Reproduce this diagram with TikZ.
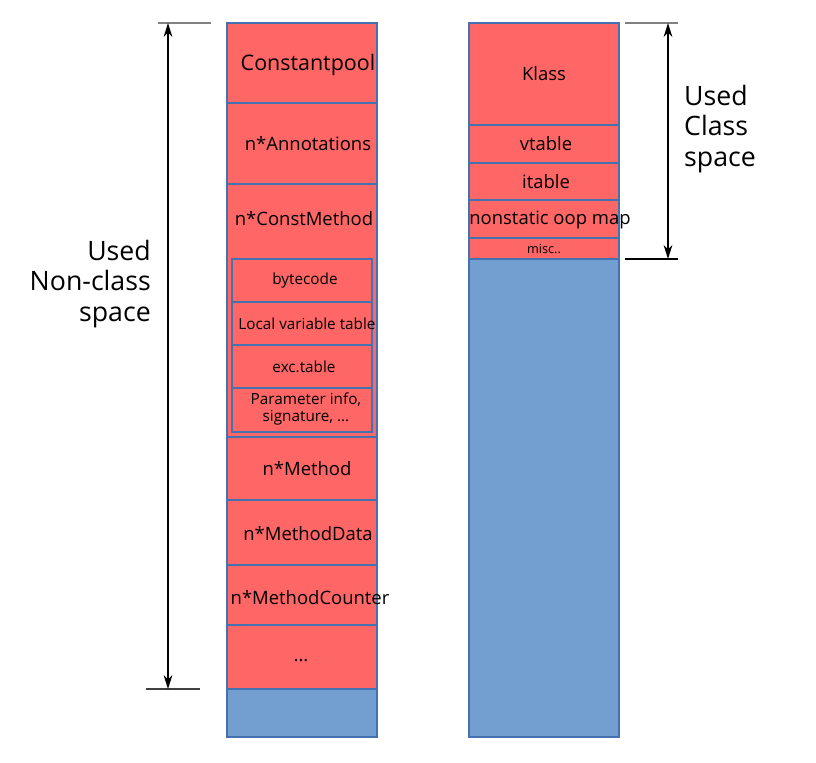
\documentclass[tikz,border=0pt]{standalone}
\usepackage{fontspec}
\setmainfont{Open Sans}
\usetikzlibrary{arrows.meta}
\definecolor{memred}{RGB}{255,102,102}
\definecolor{memblue}{RGB}{114,159,207}
\definecolor{edgeblue}{RGB}{68,114,176}

\begin{document}
\begin{tikzpicture}[x=0.02cm,y=-0.02cm,
	cell/.style={draw=edgeblue, fill=memred, line width=0.6},
	free/.style={draw=edgeblue, fill=memblue, line width=0.6},
	txt/.style={font=\fontsize{10.5}{12.6}\selectfont},
	small/.style={font=\fontsize{8.7}{9.8}\selectfont, align=center},
	tiny/.style={font=\fontsize{7.2}{8}\selectfont},
	big/.style={font=\fontsize{15.2}{17.2}\selectfont},
	span/.style={line width=0.8, {Stealth[length=8pt,width=5pt]}-{Stealth[length=8pt,width=5pt]}},
	tick/.style={line width=0.8}]

		\useasboundingbox (0,0) rectangle (816,762);

		% left column: the non-class part
		\draw[free] (227,689) rectangle (377,737);
		\draw[cell] (227,23) rectangle (377,103);
		\draw[cell] (227,103) rectangle (377,184);
		\draw[cell] (227,184) rectangle (377,437);
		\draw[cell] (227,437) rectangle (377,500);
		\draw[cell] (227,500) rectangle (377,565);
		\draw[cell] (227,565) rectangle (377,625);
		\draw[cell] (227,625) rectangle (377,689);

		% the parts of a ConstMethod
		\draw[cell] (232,259) rectangle (372,302);
		\draw[cell] (232,302) rectangle (372,345);
		\draw[cell] (232,345) rectangle (372,388);
		\draw[cell] (232,388) rectangle (372,432);

		\node[txt, font=\fontsize{12.2}{14}\selectfont] (cpool) at (308,65) {Constantpool};
		\node[txt] (annot) at (308,144) {n*Annotations};
		\node[txt] (cmeth) at (304,219) {n*ConstMethod};
		\node[small] (bcode) at (305,281) {bytecode};
		\node[small] (lvt) at (307,324) {Local variable table};
		\node[small] (exct) at (304,367) {exc.table};
		\node[small] (param) at (306,409) {Parameter info,\\signature, ...};
		\node[txt] (meth) at (307,469) {n*Method};
		\node[txt] (mdata) at (308,534) {n*MethodData};
		\node[txt] (mcount) at (310,598) {n*MethodCounter};
		\node[txt] (etc) at (301,661) {...};

		% right column: the class part
		\draw[free] (469,259) rectangle (619,737);
		\draw[cell] (469,23) rectangle (619,125);
		\draw[cell] (469,125) rectangle (619,163);
		\draw[cell] (469,163) rectangle (619,200);
		\draw[cell] (469,200) rectangle (619,238);
		\draw[cell] (469,238) rectangle (619,259);

		\node[txt] (klass) at (544,74) {Klass};
		\node[txt] (vtab) at (546,144) {vtable};
		\node[txt] (itab) at (546,182) {itable};
		\node[txt] (oopmap) at (550,220) {nonstatic oop map};
		\node[tiny] (misc) at (544,249) {misc..};

		% the used spans
		\coordinate (ltop) at (168,23);
		\coordinate (lbot) at (168,689);
		\coordinate (rtop) at (668,23);
		\coordinate (rbot) at (668,259);
		\draw[tick, gray] (158,23) -- (211,23);
		\draw[tick, darkgray] (146,689) -- (200,689);
		\draw[tick, gray] (625,23) -- (678,23);
		\draw[tick] (625,259) -- (678,259);
		\draw[span] (ltop) -- (lbot);
		\draw[span] (rtop) -- (rbot);

		\node[big, align=right, anchor=east] (nonclass) at (157,284) {Used\\Non-class\\space};
		\node[big, align=left, anchor=west] (clspace) at (678,129) {Used\\Class\\space};

\end{tikzpicture}
\end{document}
